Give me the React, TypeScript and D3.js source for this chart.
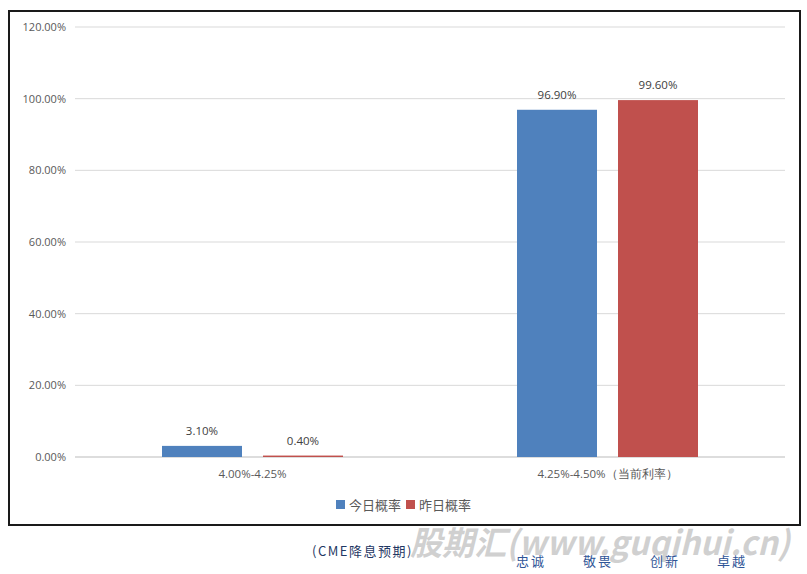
import React from "react";
import * as d3 from "d3";

const categories = ["4.00%-4.25%", "4.25%-4.50%（当前利率）"];
const seriesNames = ["今日概率", "昨日概率"];
const today = [3.1, 96.9];
const yesterday = [0.4, 99.6];
const yTicks = [0, 20, 40, 60, 80, 100, 120];
const colors = ["#4F81BD", "#C0504D"];
const mottos = ["忠诚", "敬畏", "创新", "卓越"];

export default function App() {
  const W = 807, H = 574;
  const x0 = 75, x1 = 785, yTop = 27, yBot = 457;
  const x = d3.scaleBand<string>().domain(categories).range([x0, x1]);
  const y = d3.scaleLinear().domain([0, 120]).range([yBot, yTop]);
  const barW = 80, gap = 21;
  const series = [today, yesterday];
  const font = "'Open Sans', 'Noto Sans', sans-serif";
  return (
    <svg width={W} height={H} style={{ position: "absolute", left: 0, top: 0 }}>
      <rect x={0} y={0} width={W} height={H} fill="#fff" />
      <rect x={9} y={11} width={791} height={514} fill="#fff" stroke="#1a1a1a" strokeWidth={2} />
      {yTicks.map((t) => (
        <g key={t}>
          <line x1={x0} x2={x1} y1={y(t)} y2={y(t)} stroke="#d9d9d9" strokeWidth={1} />
          <text x={66} y={y(t) + 4} textAnchor="end" fontSize={11} fill="#595959" fontFamily={font}>
            {t.toFixed(2)}%
          </text>
        </g>
      ))}
      <line x1={x0} x2={x1} y1={yBot} y2={yBot} stroke="#d9d9d9" strokeWidth={1.5} />
      {categories.map((c, i) => {
        const cx = (x(c) as number) + x.bandwidth() / 2;
        return (
          <g key={c}>
            {series.map((s, j) => {
              const bx = j === 0 ? cx - gap / 2 - barW : cx + gap / 2;
              const v = s[i];
              const h = Math.max(yBot - y(v), 1);
              return (
                <g key={j}>
                  <rect x={bx} y={yBot - h} width={barW} height={h} fill={colors[j]} />
                  <text x={bx + barW / 2} y={y(v) - 11} textAnchor="middle" fontSize={11.5} fill="#404040" fontFamily={font}>
                    {v.toFixed(2)}%
                  </text>
                </g>
              );
            })}
            <text x={cx} y={478} textAnchor="middle" fontSize={11.5} fill="#595959" fontFamily={font}>
              {c}
            </text>
          </g>
        );
      })}
      {seriesNames.map((n, j) => {
        const lx = 336 + j * 70;
        return (
          <g key={n}>
            <rect x={lx} y={500} width={9} height={9} fill={colors[j]} />
            <text x={lx + 13} y={510} fontSize={13} fill="#595959" fontFamily="'Noto Sans CJK SC', sans-serif">
              {n}
            </text>
          </g>
        );
      })}
      <text x={312} y={556} fontSize={13} fill="#1F3864" letterSpacing={1.5}
        fontFamily="'Noto Sans CJK SC', 'DejaVu Sans Mono', monospace">
        (CME降息预期)
      </text>
      <text x={410} y={555} fontSize={33} fontWeight="bold" fontStyle="italic" fill="#c8c8c8" fillOpacity={0.85}
        fontFamily="'Noto Sans CJK SC', 'DejaVu Sans', sans-serif" textLength={380} lengthAdjust="spacingAndGlyphs">
        股期汇(www.guqihui.cn)
      </text>
      {mottos.map((m, i) => (
        <text key={m} x={516 + i * 67} y={566} fontSize={13} fill="#2F5597" fontFamily="'Noto Sans CJK SC', serif" letterSpacing={2}>
          {m}
        </text>
      ))}
    </svg>
  );
}
